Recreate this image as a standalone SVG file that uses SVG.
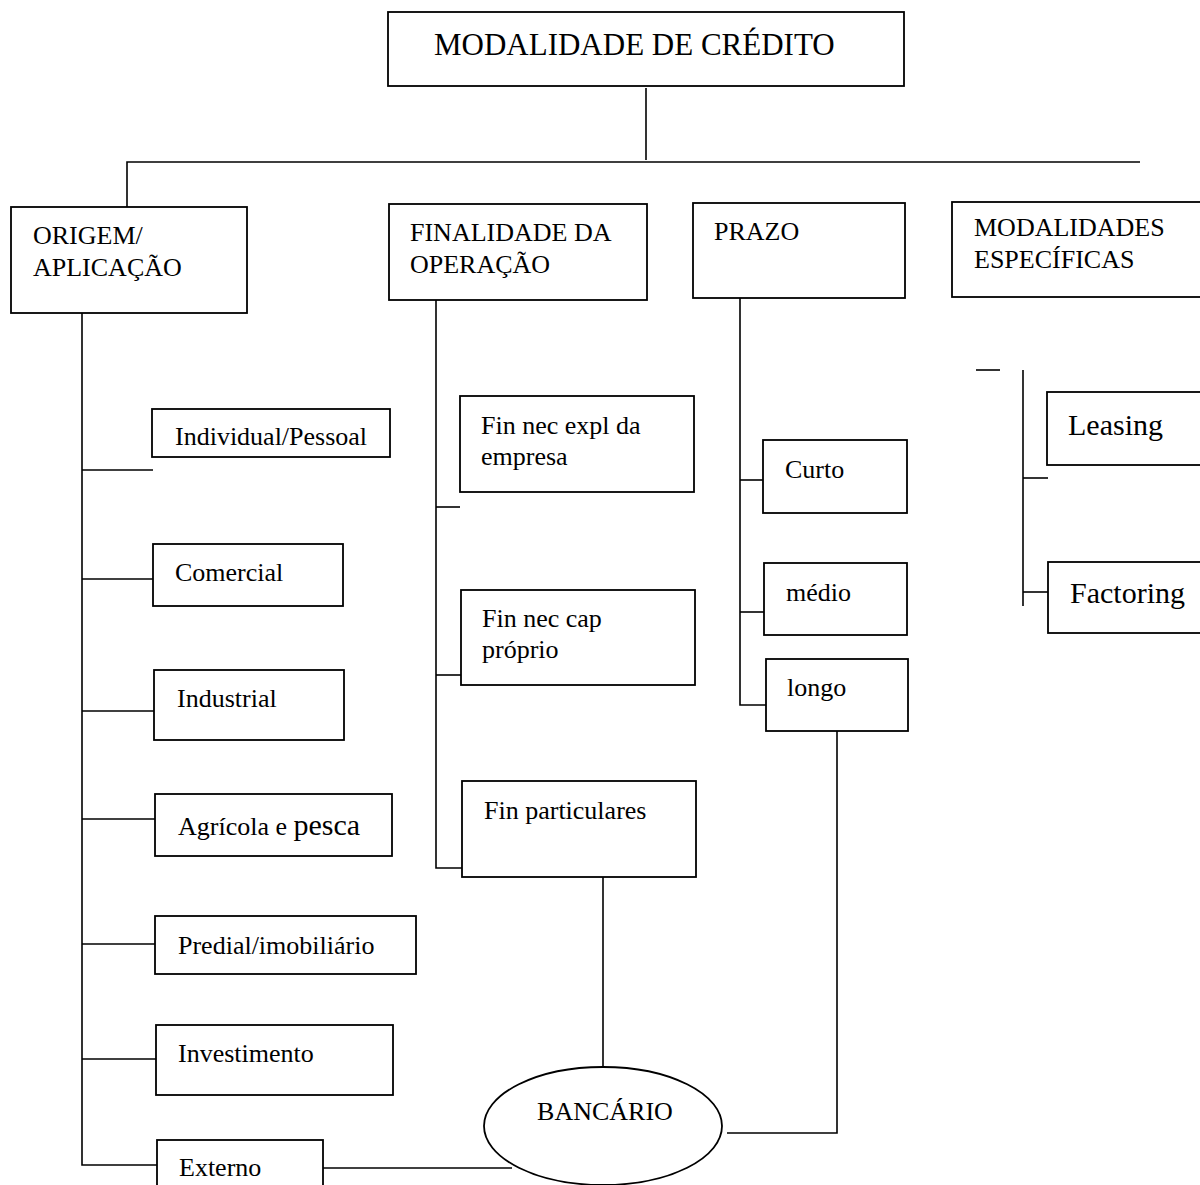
<svg xmlns="http://www.w3.org/2000/svg" width="1200" height="1185" viewBox="0 0 1200 1185">
<style>
.box{fill:#fff;stroke:#000;stroke-width:1.8}
.ln{fill:none;stroke:#000;stroke-width:1.6}
text{font-family:"Liberation Serif","Times New Roman",serif;fill:#000;font-size:26px}
.big{font-size:30px}
.title{font-size:31px}
</style>
<rect width="1200" height="1185" fill="#fff"/>
<g id="connectors" class="ln">
<path d="M646 88V160"/>
<path d="M127 207V162H1140"/>
<path d="M82 313V1165H157"/>
<path d="M82 470H153"/>
<path d="M82 579H153"/>
<path d="M82 711H154"/>
<path d="M82 819H155"/>
<path d="M82 944H155"/>
<path d="M82 1059H156"/>
<path d="M323 1168H512"/>
<path d="M436 300V868H462"/>
<path d="M436 507H460"/>
<path d="M436 675H461"/>
<path d="M603 877V1067"/>
<path d="M740 298V705H766"/>
<path d="M740 480H763"/>
<path d="M740 612H764"/>
<path d="M727 1133H837V731"/>
<path d="M976 370H1000"/>
<path d="M1023 370V606"/>
<path d="M1023 478H1048"/>
<path d="M1023 592H1048"/>
</g>
<g id="root"><rect class="box" x="388" y="12" width="516" height="74"/><text class="title" x="434" y="55">MODALIDADE DE CRÉDITO</text></g>
<g id="origem"><rect class="box" x="11" y="207" width="236" height="106"/><text x="33" y="244">ORIGEM/</text><text x="33" y="276">APLICAÇÃO</text></g>
<g id="finalidade"><rect class="box" x="389" y="204" width="258" height="96"/><text x="410" y="241">FINALIDADE DA</text><text x="410" y="273">OPERAÇÃO</text></g>
<g id="prazo"><rect class="box" x="693" y="203" width="212" height="95"/><text x="714" y="240">PRAZO</text></g>
<g id="modalidades"><rect class="box" x="952" y="202" width="260" height="95"/><text x="974" y="236">MODALIDADES</text><text x="974" y="268">ESPECÍFICAS</text></g>
<g id="individual"><rect class="box" x="152" y="409" width="238" height="48"/><text x="175" y="445">Individual/Pessoal</text></g>
<g id="comercial"><rect class="box" x="153" y="544" width="190" height="62"/><text x="175" y="581">Comercial</text></g>
<g id="industrial"><rect class="box" x="154" y="670" width="190" height="70"/><text x="177" y="707">Industrial</text></g>
<g id="agricola"><rect class="box" x="155" y="794" width="237" height="62"/><text x="178" y="835">Agrícola e <tspan class="big">pesca</tspan></text></g>
<g id="predial"><rect class="box" x="155" y="916" width="261" height="58"/><text x="178" y="954">Predial/imobiliário</text></g>
<g id="investimento"><rect class="box" x="156" y="1025" width="237" height="70"/><text x="178" y="1062">Investimento</text></g>
<g id="externo"><rect class="box" x="157" y="1140" width="166" height="60"/><text x="179" y="1176">Externo</text></g>
<g id="finexpl"><rect class="box" x="460" y="396" width="234" height="96"/><text x="481" y="434">Fin nec expl da</text><text x="481" y="465">empresa</text></g>
<g id="fincap"><rect class="box" x="461" y="590" width="234" height="95"/><text x="482" y="627">Fin nec cap</text><text x="482" y="658">próprio</text></g>
<g id="finpart"><rect class="box" x="462" y="781" width="234" height="96"/><text x="484" y="819">Fin particulares</text></g>
<g id="curto"><rect class="box" x="763" y="440" width="144" height="73"/><text x="785" y="478">Curto</text></g>
<g id="medio"><rect class="box" x="764" y="563" width="143" height="72"/><text x="786" y="601">médio</text></g>
<g id="longo"><rect class="box" x="766" y="659" width="142" height="72"/><text x="787" y="696">longo</text></g>
<g id="leasing"><rect class="box" x="1047" y="392" width="170" height="73"/><text class="big" x="1068" y="435">Leasing</text></g>
<g id="factoring"><rect class="box" x="1048" y="562" width="170" height="71"/><text class="big" x="1070" y="603">Factoring</text></g>
<g id="bancario"><ellipse class="box" cx="603" cy="1126" rx="119" ry="59"/><text x="605" y="1120" text-anchor="middle">BANCÁRIO</text></g>
</svg>
